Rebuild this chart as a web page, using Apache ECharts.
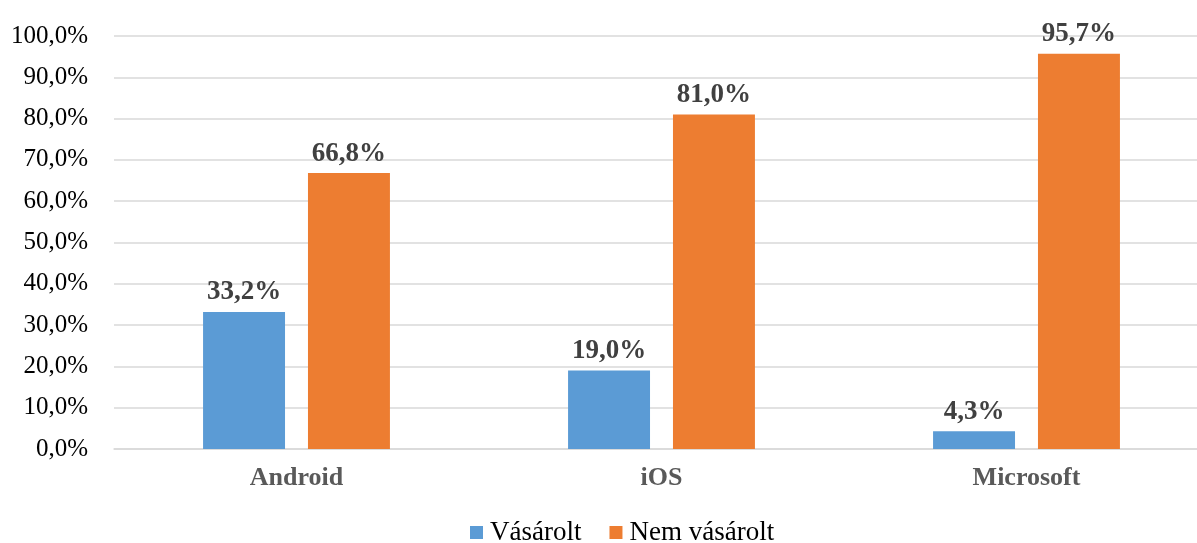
<!DOCTYPE html>
<html>
<head>
<meta charset="utf-8">
<script src="https://cdn.jsdelivr.net/npm/echarts@6/dist/echarts.min.js"></script>
<style>
  html, body { margin: 0; padding: 0; background: #fff; }
  #chart { width: 1197px; height: 543px; }
</style>
</head>
<body>
<div id="chart"></div>
<script>
// data
const categories = ['Android', 'iOS', 'Microsoft']
const seriesNames = ['Vásárolt', 'Nem vásárolt']
const bought = [33.2, 19.0, 4.3]
const notBought = [66.8, 81.0, 95.7]

const colors = ['#5b9bd5', '#ed7d31']
const font = '"Liberation Serif", "DejaVu Serif", serif'

const fmt = v => v.toFixed(1).replace('.', ',') + '%'

const chart = echarts.init(document.getElementById('chart'))

function barSeries(name, data, color) {
  return {
    name,
    type: 'bar',
    data,
    barGap: '28%',
    barCategoryGap: '48.8%',
    itemStyle: { color },
    label: {
      show: true,
      position: 'top',
      distance: 6,
      formatter: p => fmt(p.value),
      fontFamily: font,
      fontSize: 27,
      fontWeight: 'bold',
      color: '#404040',
    },
  }
}

chart.setOption({
  animation: false,
  textStyle: { fontFamily: font },
  // the plot area runs a little past the right edge in the reference
  grid: { left: 114, width: 1095, top: 36, bottom: 94, outerBoundsMode: 'none' },
  legend: {
    top: 519,
    left: 470,
    padding: 0,
    icon: 'rect',
    itemWidth: 13,
    itemHeight: 13,
    itemGap: 28,
    textStyle: { fontFamily: font, fontSize: 27, color: '#000', padding: [0, 0, 0, 2] },
    data: seriesNames,
  },
  xAxis: {
    type: 'category',
    data: categories,
    axisLine: { lineStyle: { color: '#d9d9d9', width: 1.5 } },
    axisTick: { show: false },
    axisLabel: {
      fontFamily: font,
      fontSize: 26,
      fontWeight: 'bold',
      color: '#595959',
      margin: 16,
    },
  },
  yAxis: {
    type: 'value',
    min: 0,
    max: 100,
    interval: 10,
    axisLine: { show: false },
    axisTick: { show: false },
    splitLine: { lineStyle: { color: '#d9d9d9', width: 1.5 } },
    axisLabel: {
      formatter: v => fmt(v),
      fontFamily: font,
      fontSize: 25,
      color: '#000',
      margin: 26,
    },
  },
  series: [
    barSeries(seriesNames[0], bought, colors[0]),
    barSeries(seriesNames[1], notBought, colors[1]),
  ],
})
</script>
</body>
</html>
